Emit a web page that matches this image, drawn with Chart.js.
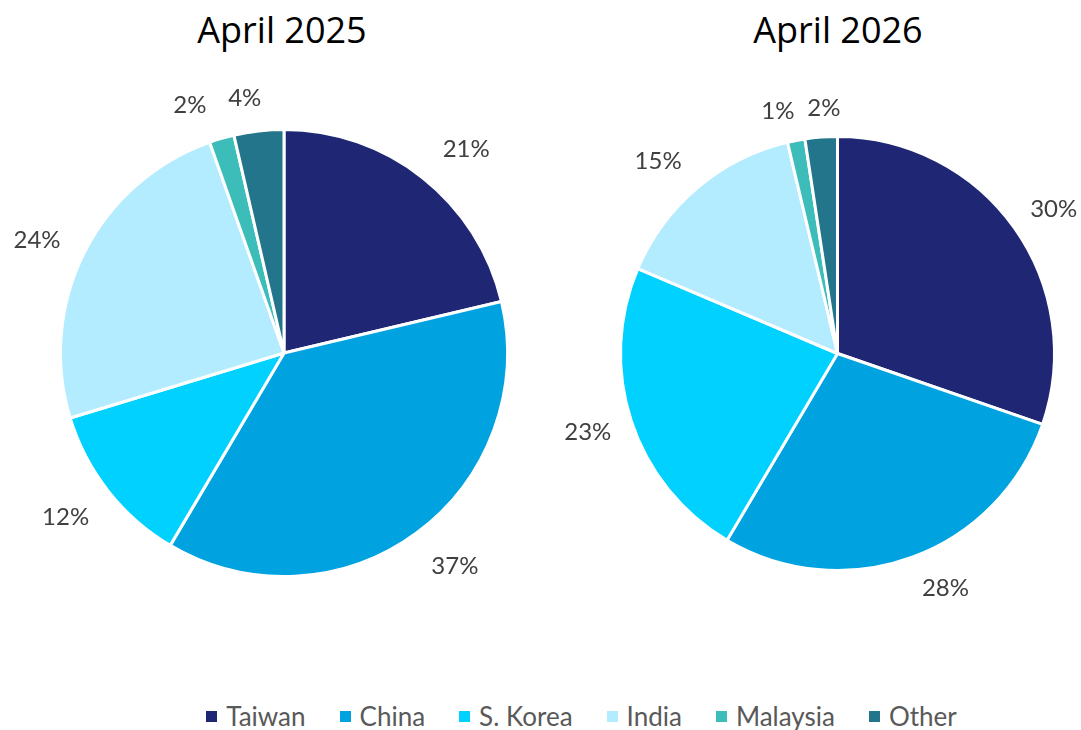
<!DOCTYPE html>
<html>
<head>
<meta charset="utf-8">
<script src="https://cdn.jsdelivr.net/npm/chart.js@4.4.1/dist/chart.umd.min.js"></script>
<style>
  html, body { margin:0; padding:0; background:#fff; }
  body { width:1081px; height:730px; position:relative; overflow:hidden; font-family: Lato, "Noto Sans", sans-serif; }
  .title { position:absolute; top:5px; font-size:36px; color:#000; text-align:center; width:400px; font-family: "Open Sans", Lato, sans-serif; font-weight:400; }
  #wrapL { position:absolute; left:0; top:0; width:568px; height:690px; }
  #wrapR { position:absolute; left:541px; top:0; width:540px; height:690px; }
  #legend { position:absolute; left:0; width:1081px; top:700px; display:flex; justify-content:center; padding-left:82px; box-sizing:border-box; font-size:26px; color:#595959; }
  .li { display:flex; align-items:center; margin:0 17px; white-space:nowrap; }
  .sw { width:11px; height:11px; margin-right:9px; display:inline-block; }
</style>
</head>
<body>
<div class="title" id="tL" style="left:82px;"></div>
<div class="title" id="tR" style="left:638px;"></div>
<div id="wrapL"><canvas id="cL"></canvas></div>
<div id="wrapR"><canvas id="cR"></canvas></div>
<div id="legend"></div>
<script>
const categories = ["Taiwan", "China", "S. Korea", "India", "Malaysia", "Other"];
const titles = ["April 2025", "April 2026"];
const values2025 = [21.3, 37.2, 11.8, 24.3, 1.8, 3.6];
const values2026 = [30.3, 28.2, 22.9, 14.9, 1.3, 2.4];
const labels2025 = ["21%", "37%", "12%", "24%", "2%", "4%"];
const labels2026 = ["30%", "28%", "23%", "15%", "1%", "2%"];
const colors = ["#1F2774", "#00A3E0", "#00D1FF", "#B3EBFF", "#3DBDBA", "#22758B"];

document.getElementById('tL').textContent = titles[0];
document.getElementById('tR').textContent = titles[1];

const leg = document.getElementById('legend');
categories.forEach((c, i) => {
  const d = document.createElement('div'); d.className = 'li';
  const s = document.createElement('span'); s.className = 'sw'; s.style.background = colors[i];
  const t = document.createElement('span'); t.textContent = c;
  d.appendChild(s); d.appendChild(t); leg.appendChild(d);
});

const outLabels = {
  id: 'outLabels',
  afterDatasetsDraw(chart, args, opts) {
    const ctx = chart.ctx;
    const meta = chart.getDatasetMeta(0);
    ctx.save();
    ctx.font = '24px Lato, "Noto Sans", sans-serif';
    ctx.fillStyle = '#404040';
    ctx.textAlign = 'center';
    ctx.textBaseline = 'middle';
    meta.data.forEach((arc, i) => {
      const p = arc.getProps(['x', 'y', 'startAngle', 'endAngle', 'outerRadius'], true);
      const mid = (p.startAngle + p.endAngle) / 2 + (opts.shift ? opts.shift[i] : 0);
      const r = p.outerRadius + opts.offsets[i];
      ctx.fillText(opts.texts[i], p.x + Math.cos(mid) * r, p.y + Math.sin(mid) * r);
    });
    ctx.restore();
  }
};

function makePie(id, values, texts, padding, offsets, shift) {
  return new Chart(document.getElementById(id), {
    type: 'pie',
    data: { labels: categories, datasets: [{ data: values, backgroundColor: colors, borderColor: '#ffffff', borderWidth: 3, hoverOffset: 0 }] },
    options: {
      responsive: true, maintainAspectRatio: false, animation: false,
      layout: { padding: padding },
      plugins: { legend: { display: false }, tooltip: { enabled: false }, title: { display: false },
        outLabels: { texts: texts, offsets: offsets, shift: shift } }
    },
    plugins: [outLabels]
  });
}

makePie('cL', values2025, labels2025, { top: 128, bottom: 690 - 578, left: 59, right: 59 },
  [50, 50, 50, 48, 42, 34], [0.06, -0.04, 0.02, -0.04, -0.08, -0.04]);
makePie('cR', values2026, labels2026, { top: 135, bottom: 690 - 572, left: 78, right: 25 },
  [43, 41, 45, 46, 32, 29], [0.03, -0.08, 0.01, -0.05, -0.05, 0.02]);
</script>
</body>
</html>
